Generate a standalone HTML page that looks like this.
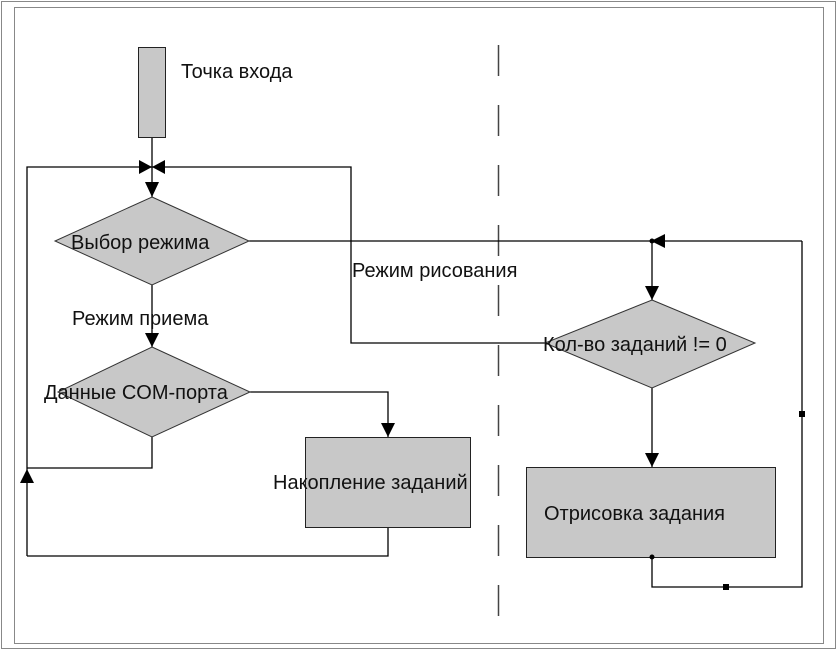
<!DOCTYPE html>
<html><head><meta charset="utf-8"><style>
html,body{margin:0;padding:0;background:#fff;}
svg{display:block;}
text{font-family:"Liberation Sans",sans-serif;font-size:20px;fill:#111;}
</style></head><body>
<svg width="839" height="651" viewBox="0 0 839 651" xmlns="http://www.w3.org/2000/svg">
<rect x="1.5" y="1.5" width="834" height="647" fill="none" stroke="#888" stroke-width="1"/>
<rect x="14.5" y="7.5" width="809" height="636" fill="none" stroke="#888" stroke-width="1"/>
<line x1="498.5" y1="45" x2="498.5" y2="630" stroke="#444" stroke-width="1.5" stroke-dasharray="31,29"/>
<g stroke="#000" stroke-width="1.3" fill="none">
<polyline points="27,556 27,167 351,167 351,343 545,343"/>
<line x1="152" y1="137" x2="152" y2="197"/>
<line x1="249" y1="241" x2="802" y2="241"/>
<polyline points="652,241 652,300"/>
<polyline points="652,388 652,467"/>
<polyline points="652,557 652,587 802,587 802,241"/>
<line x1="152" y1="285" x2="152" y2="347"/>
<polyline points="250,392 388,392 388,437"/>
<polyline points="152,437 152,468 27,468"/>
<polyline points="388,527 388,556 27,556"/>
</g>
<rect x="138.5" y="47.5" width="27" height="90" fill="#c8c8c8" stroke="#222"/>
<polygon points="152,197 249,241 152,285 55,241" fill="#c8c8c8" stroke="#333"/>
<polygon points="152,347 250,392 152,437 58,392" fill="#c8c8c8" stroke="#333"/>
<polygon points="652,300 755,343 652,388 545,343" fill="#c8c8c8" stroke="#333"/>
<rect x="305.5" y="437.5" width="165" height="90" fill="#c8c8c8" stroke="#222"/>
<rect x="526.5" y="467.5" width="249" height="90" fill="#c8c8c8" stroke="#222"/>
<g fill="#000">
<polygon points="139,160 152,167 139,174"/>
<polygon points="165,160 152,167 165,174"/>
<polygon points="145,182 159,182 152,197"/>
<polygon points="145,333 159,333 152,347"/>
<polygon points="381,423 395,423 388,437"/>
<polygon points="645,286 659,286 652,300"/>
<polygon points="645,453 659,453 652,467"/>
<polygon points="20,483 34,483 27,469"/>
<polygon points="665,234 665,248 651,241"/>
<circle cx="652" cy="241" r="2.5"/>
<circle cx="652" cy="557" r="2.5"/>
<rect x="799" y="411" width="6" height="6"/>
<rect x="723" y="584" width="6" height="6"/>
</g>
<text x="181" y="78">Точка входа</text>
<text x="71" y="249">Выбор режима</text>
<text x="352" y="277">Режим рисования</text>
<text x="72" y="325">Режим приема</text>
<text x="44" y="399">Данные COM-порта</text>
<text x="273" y="489">Накопление заданий</text>
<text x="543" y="351">Кол-во заданий != 0</text>
<text x="544" y="520">Отрисовка задания</text>
</svg>
</body></html>
